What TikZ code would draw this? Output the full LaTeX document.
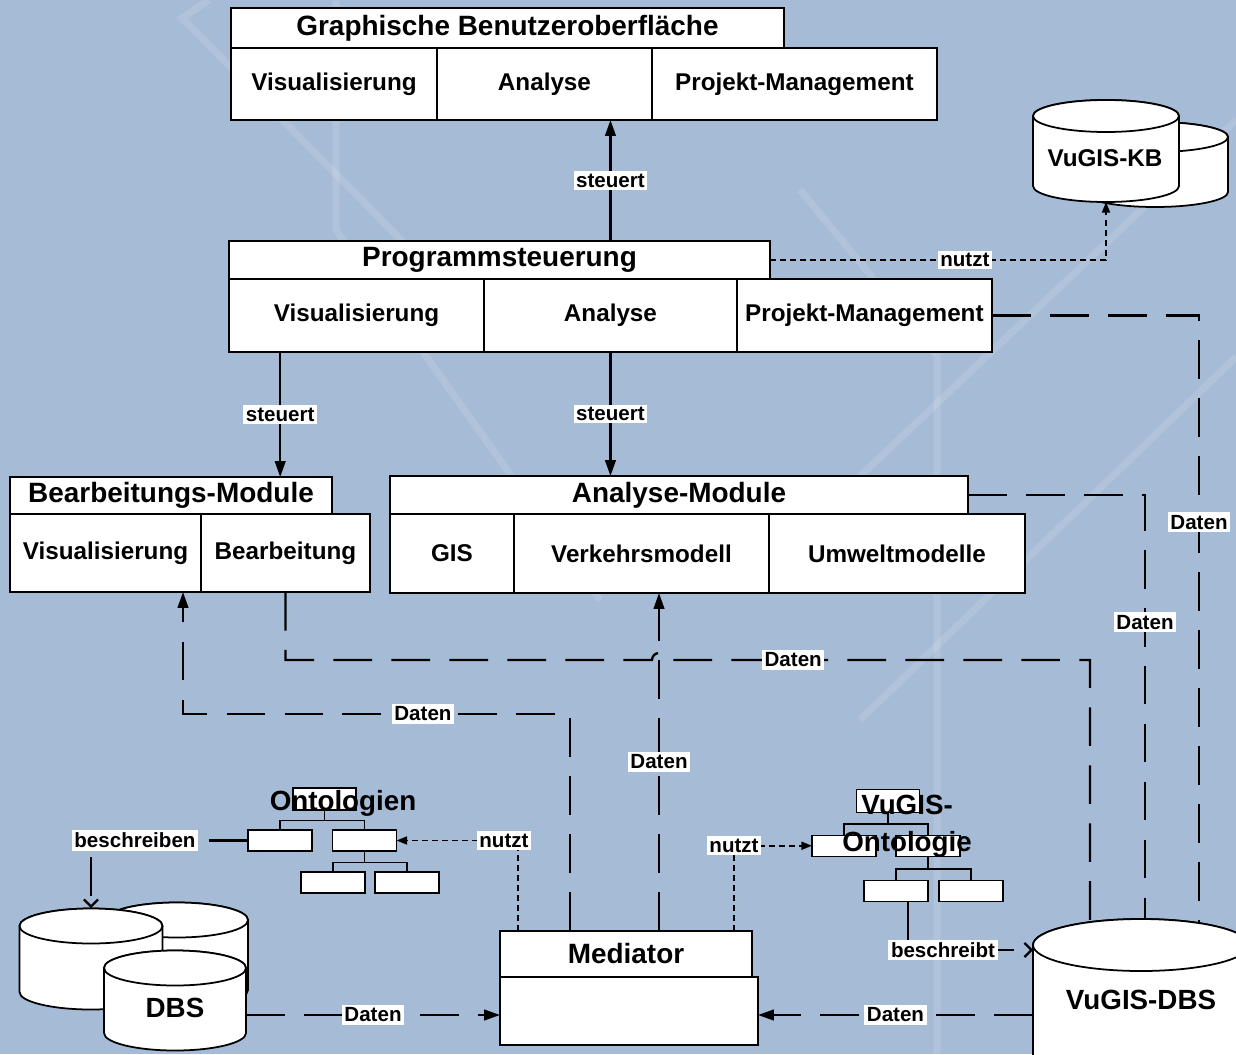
\documentclass[tikz,border=0pt]{standalone}
\usepackage{fontspec}
\setmainfont{Liberation Sans}
\usepackage{tikz}
\usetikzlibrary{positioning, arrows.meta}
\definecolor{bgblue}{RGB}{166,187,214}
% cylinder: centre x, top y, bottom y, x radius, y radius
\newcommand{\dbcyl}[5]{%
  \filldraw[cyl] ({#1-#4},#2) -- ({#1-#4},#3) arc[start angle=180, end angle=0, x radius=#4, y radius=#5]
    -- ({#1+#4},#2) arc[start angle=0, end angle=-180, x radius=#4, y radius=#5] -- cycle;
  \draw[cyl] (#1,#2) ellipse[x radius=#4, y radius=#5];}

\begin{document}
\begin{tikzpicture}[x=0.02cm, y=-0.02cm]
\tikzstyle{head}=[draw, rectangle, fill=white, line width=1pt, inner sep=0pt, outer sep=0pt, text centered, font=\fontsize{15.9}{18}\selectfont\bfseries]
\tikzstyle{cellbox}=[draw, rectangle, fill=white, line width=1pt, inner sep=0pt, outer sep=0pt, text centered, font=\fontsize{13.8}{16}\selectfont\bfseries]
\tikzstyle{ontbox}=[draw, rectangle, fill=white, line width=0.8pt, inner sep=0pt, outer sep=0pt, minimum width=1.28cm, minimum height=0.42cm]
\tikzstyle{ontitle}=[inner sep=0pt, align=center, font=\fontsize{15.8}{21}\selectfont\bfseries]
\tikzstyle{dbtext}=[inner sep=0pt, font=\fontsize{15.8}{18}\selectfont\bfseries]
\tikzstyle{cyl}=[draw, fill=white, line width=1pt]
\tikzstyle{treeline}=[draw, line width=0.6pt]
\tikzstyle{lbl}=[fill=white, inner sep=1.5pt, font=\fontsize{11.7}{13}\selectfont\bfseries]
\tikzstyle{steer}=[draw, line width=1.3pt, -{Triangle[length=9pt, width=6pt]}]
\tikzstyle{datalink}=[draw, line width=1.3pt, dash pattern=on 22pt off 11pt]
\tikzstyle{datatip}=[-{Triangle[length=9pt, width=6pt]}]
\tikzstyle{barb}=[-{Straight Barb[length=4pt, width=8pt]}]
\tikzstyle{usedby}=[draw, line width=1.1pt, dash pattern=on 3.4pt off 2.3pt, -{Triangle[length=6pt, width=4.5pt]}]
\tikzstyle{bgline}=[draw, white, opacity=0.13, line width=4pt]

\useasboundingbox (0,0) rectangle (1236,1054);
\clip (0,0) rectangle (1236,1054);
\fill[bgblue] (0,0) rectangle (1236,1054);
\draw[bgline] (209,0) -- (182,18) -- (470,310);
\draw[bgline] (336,0) -- (336,230) -- (600,600);
\draw[bgline] (800,190) -- (937,355) -- (937,1054);
\draw[bgline] (1236,120) -- (740,590);
\draw[bgline] (1236,357) -- (860,720);

% Graphische Benutzeroberflaeche
\node[head, minimum width=11.06cm, minimum height=0.8cm] (guiHead) at (507.5,28) {Graphische Benutzeroberfläche};
\node[cellbox, minimum width=4.12cm, minimum height=1.44cm] (guiVis) at (334,84) {Visualisierung};
\node[cellbox, minimum width=4.3cm, minimum height=1.44cm, right=0pt of guiVis] (guiAna) {Analyse};
\node[cellbox, minimum width=5.7cm, minimum height=1.44cm, right=0pt of guiAna] (guiPM) {Projekt-Management};

% Programmsteuerung
\node[head, minimum width=10.82cm, minimum height=0.76cm] (psHead) at (499.5,260) {Programmsteuerung};
\node[cellbox, minimum width=5.1cm, minimum height=1.46cm] (psVis) at (356.5,315.5) {Visualisierung};
\node[cellbox, minimum width=5.06cm, minimum height=1.46cm, right=0pt of psVis] (psAna) {Analyse};
\node[cellbox, minimum width=5.1cm, minimum height=1.46cm, right=0pt of psAna] (psPM) {Projekt-Management};

% Bearbeitungs-Module
\node[head, minimum width=6.44cm, minimum height=0.74cm] (bmHead) at (171,495.5) {Bearbeitungs-Module};
\node[cellbox, minimum width=3.82cm, minimum height=1.56cm] (bmVis) at (105.5,553) {Visualisierung};
\node[cellbox, minimum width=3.38cm, minimum height=1.56cm, right=0pt of bmVis] (bmBea) {Bearbeitung};

% Analyse-Module
\node[head, minimum width=11.56cm, minimum height=0.76cm] (amHead) at (679,495) {Analyse-Module};
\node[cellbox, minimum width=2.48cm, minimum height=1.58cm] (amGIS) at (452,553.5) {GIS};
\node[cellbox, minimum width=5.1cm, minimum height=1.58cm, right=0pt of amGIS] (amVer) {Verkehrsmodell};
\node[cellbox, minimum width=5.12cm, minimum height=1.58cm, right=0pt of amVer] (amUmw) {Umweltmodelle};

% Mediator
\node[head, minimum width=5.04cm, minimum height=0.92cm] (medHead) at (626,954) {Mediator};
\node[head, minimum width=5.16cm, minimum height=1.36cm] (medBox) at (629,1011) {};

% Datenbanken
\dbcyl{1155}{137}{192}{73}{15}
\dbcyl{1106}{116}{186}{73}{16}
\node[dbtext, font=\fontsize{13.8}{16}\selectfont\bfseries] (vkb) at (1105,158) {VuGIS-KB};
\dbcyl{177}{920}{990}{71}{17.5}
\dbcyl{91}{926}{992}{71.5}{17.5}
\dbcyl{175}{968}{1033}{71}{17.5}
\node[dbtext] (dbs) at (175,1008) {DBS};
\dbcyl{1141}{945}{1085}{108}{26}
\node[dbtext] (vdbs) at (1141,1000) {VuGIS-DBS};

% Ontologien
\node[ontbox, minimum width=1.26cm, minimum height=0.44cm] (onTop) at (324.5,799) {};
\node[ontbox] (onA) at (280,840.5) {};
\node[ontbox] (onB) at (364.5,840.5) {};
\node[ontbox] (onC) at (333,882.5) {};
\node[ontbox] (onD) at (407,882.5) {};
\path[treeline] (onTop.south) -- ++(0,10.7);
\path[treeline] (onA.north) -- ++(0,-9.3) -| (onB.north);
\path[treeline] (onB.south) -- ++(0,11.7);
\path[treeline] (onC.north) -- ++(0,-9.3) -| (onD.north);
\node[ontitle] (onTitle) at (343,803) {Ontologien};

\node[ontbox, minimum width=1.26cm, minimum height=0.46cm] (vgTop) at (888,800.7) {};
\node[ontbox] (vgA) at (844,845.75) {};
\node[ontbox] (vgB) at (928,845.75) {};
\node[ontbox] (vgC) at (896,890.75) {};
\node[ontbox] (vgD) at (971,890.75) {};
\path[treeline] (vgTop.south) -- ++(0,12.3);
\path[treeline] (vgA.north) -- ++(0,-11.25) -| (vgB.north);
\path[treeline] (vgB.south) -- ++(0,12.75);
\path[treeline] (vgC.north) -- ++(0,-11.25) -| (vgD.north);
\node[ontitle] (vgTitle) at (907,826) {VuGIS-\\Ontologie};

% Anschlusspunkte
\coordinate (kbBase) at (1106,202);
\coordinate (dbsTop) at (91,908);
\coordinate (dbsOut) at (246,1015);
\coordinate (vdbsA) at (1090,922);
\coordinate (vdbsB) at (1145,919);
\coordinate (vdbsC) at (1199,923);
\coordinate (vdbsL) at (1033,950);
\coordinate (vdbsOut) at (1033,1015);
\coordinate (mU1) at (518,931);
\coordinate (mU2) at (734,931);
\coordinate (mU3) at (659,931);
\coordinate (mU4) at (570,931);
\coordinate (bmIn) at (183,592);
\coordinate (hopA) at (652,660);

% steuert
\path[steer] (psAna |- psHead.north) -- node[lbl]{steuert} (psAna |- guiAna.south);
\path[steer] ([xshift=-3pt]bmBea.north |- psVis.south) -- node[lbl]{steuert} ([xshift=-3pt]bmBea.north |- bmHead.north);
\path[steer] (psAna.south) -- node[lbl]{steuert} (psAna |- amHead.north);

% nutzt
\path[usedby] (psHead.east) -| node[lbl, pos=0.29]{nutzt} (kbBase);
\path[usedby] (mU1) |- node[lbl, pos=0.5, xshift=-8pt]{nutzt} (onB.east);
\path[usedby] (mU2) |- node[lbl, pos=0.5]{nutzt} (vgA.west);

% Daten
\path[datalink] (psPM.east) -| node[lbl, pos=0.67]{Daten} (vdbsC);
\path[datalink] (amHead.east) -| node[lbl, pos=0.65]{Daten} (vdbsB);
\path[datalink] (bmBea.south) -- ++(0,68) -- (hopA) arc[start angle=180, end angle=360, radius=7] -| node[lbl, pos=0.15]{Daten} (vdbsA);
\path[datalink, datatip] (mU4) -- ++(0,-217) -| node[lbl, pos=0.19]{Daten} (bmIn);
\path[datalink, datatip] (mU3) -- node[lbl]{Daten} (mU3 |- amVer.south);
\path[datalink, datatip] (dbsOut) -- node[lbl]{Daten} (dbsOut -| medBox.west);
\path[datalink, datatip] (vdbsOut) -- node[lbl]{Daten} (vdbsOut -| medBox.east);

% beschreiben
\path[datalink, barb] (onA.west) -| node[lbl, pos=0.36]{beschreiben} (dbsTop);
\path[datalink, barb] ([xshift=6.8pt]vgC.south) |- node[lbl, pos=0.64]{beschreibt} (vdbsL);

\end{tikzpicture}
\end{document}
